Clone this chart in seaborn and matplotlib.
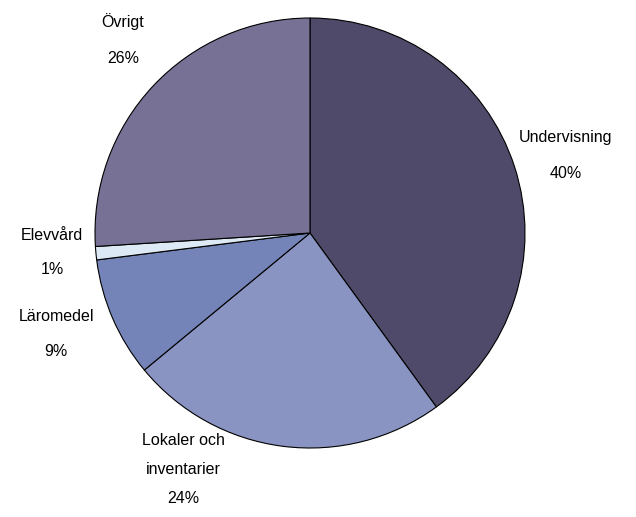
import numpy as np
import seaborn as sns
import matplotlib
matplotlib.use("Agg")
import matplotlib.pyplot as plt

categories = ["Undervisning", "Lokaler och\ninventarier", "Läromedel", "Elevvård", "Övrigt"]
shares = [40, 24, 9, 1, 26]
colors = ["#4F4A69", "#8A94C3", "#7584B8", "#DDEAF5", "#777196"]

# label block centres (data units, pie radius = 1)
label_pos = [(1.19, 0.36), (-0.59, -1.10), (-1.18, -0.47), (-1.20, -0.09), (-0.87, 0.90)]
label_spacing = [2.75, 2.15, 2.7, 2.6, 2.8]

sns.set_theme(style="white")
plt.rcParams["font.family"] = ["Liberation Sans", "DejaVu Sans"]

W, H = 636, 517
cx, cy, r = 310, 233, 215
fig = plt.figure(figsize=(W / 100, H / 100), dpi=100)
ax = fig.add_axes([0, 0, 1, 1])

ax.pie(shares, colors=colors, startangle=90, counterclock=False, radius=1,
       wedgeprops=dict(edgecolor="black", linewidth=0.8))

for cat, val, (x, y), ls in zip(categories, shares, label_pos, label_spacing):
    ax.text(x, y, f"{cat}\n{val}%", ha="center", va="center", fontsize=11.5,
            linespacing=ls, color="black")

ax.set_xlim(-cx / r, (W - cx) / r)
ax.set_ylim(-(H - cy) / r, cy / r)
ax.set_aspect("equal")
ax.axis("off")

fig.savefig("out.png", dpi=100)
